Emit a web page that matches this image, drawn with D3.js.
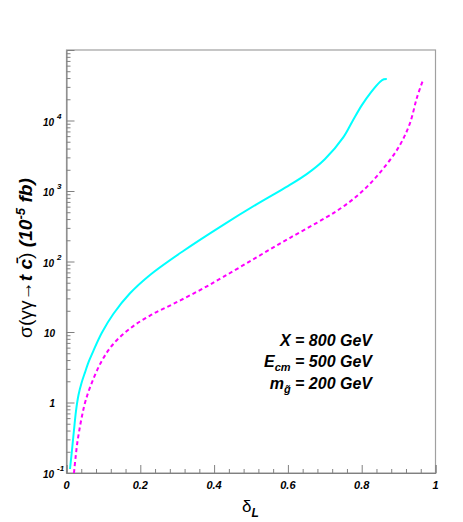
<!DOCTYPE html>
<html><head><meta charset="utf-8">
<script src="https://cdn.jsdelivr.net/npm/d3@7/dist/d3.min.js"></script>
<style>body{margin:0;background:#fff}</style></head>
<body><svg id="c" width="463" height="522"></svg>
<script>
// ---- data ----
const xTicks = [0, 0.2, 0.4, 0.6, 0.8, 1];
const xTickLabels = ["0", "0.2", "0.4", "0.6", "0.8", "1"];
const yTicks = [0.1, 1, 10, 100, 1000, 10000];
const yTickBase = ["10", "1", "10", "10", "10", "10"];
const yTickExp = ["-1", "", "", "2", "3", "4"];

const cyanDelta = [0.0095, 0.0149, 0.0203, 0.0257, 0.0325, 0.0407, 0.0501, 0.0610, 0.0726, 0.0954, 0.1268, 0.1721, 0.2263, 0.3165, 0.425, 0.515, 0.600, 0.650, 0.700, 0.750, 0.775, 0.800, 0.825, 0.850, 0.860, 0.868];
const cyanValue = [0.114, 0.212, 0.407, 0.757, 1.276, 1.89, 2.67, 3.88, 5.37, 9.68, 18.0, 35.4, 64.4, 141, 331, 646, 1175, 1718, 2818, 5754, 9772, 16400, 25100, 35500, 38460, 38900];

const magentaDelta = [0.0203, 0.0244, 0.0285, 0.0339, 0.0420, 0.0515, 0.0683, 0.0954, 0.1268, 0.1721, 0.2263, 0.2894, 0.3618, 0.4249, 0.515, 0.606, 0.700, 0.750, 0.800, 0.850, 0.900, 0.930, 0.950, 0.967];
const magentaValue = [0.1, 0.163, 0.250, 0.382, 0.644, 1.05, 1.89, 3.88, 6.76, 11.2, 17.1, 25.0, 39.3, 60.3, 114.6, 217, 411, 601, 975, 1837, 4169, 8913, 21380, 38460];

// ---- layout ----
const m = {left: 66.5, right: 435.5, top: 50, bottom: 473};
const svg = d3.select("#c");
const x = d3.scaleLinear().domain([0, 1]).range([m.left, m.right]);
const y = d3.scaleLog().domain([0.1, 1e5]).range([m.bottom, m.top]);
const axisCol = "#808080";
const FONT = "'Liberation Sans', Arial, Helvetica, sans-serif";

// frame
svg.append("rect").attr("x", m.left).attr("y", m.top)
  .attr("width", m.right - m.left).attr("height", m.bottom - m.top)
  .attr("fill", "none").attr("stroke", "#a0a0a0").attr("stroke-width", 1.2);

// x ticks
const xMinor = d3.range(0, 26).map(i => i * 0.04).filter(v => Math.abs(v / 0.2 - Math.round(v / 0.2)) > 1e-6);
const gx = svg.append("g").attr("transform", `translate(0,${m.bottom})`);
gx.call(d3.axisBottom(x).tickValues(xMinor).tickSize(-4).tickFormat(""));
gx.call(g => g.selectAll(".domain").remove());
const gx2 = svg.append("g").attr("transform", `translate(0,${m.bottom})`);
gx2.call(d3.axisBottom(x).tickValues(xTicks).tickSize(-8).tickFormat(""));
[gx, gx2].forEach(g => { g.selectAll("line").attr("stroke", axisCol); g.selectAll(".domain").attr("stroke", axisCol); });

// y ticks
const yMinor = [];
for (let e = -1; e < 5; e++) for (let k = 2; k <= 9; k++) yMinor.push(k * Math.pow(10, e));
const gy = svg.append("g").attr("transform", `translate(${m.left},0)`);
gy.call(d3.axisLeft(y).tickValues(yMinor).tickSize(-4).tickFormat(""));
gy.call(g => g.selectAll(".domain").remove());
const gy2 = svg.append("g").attr("transform", `translate(${m.left},0)`);
gy2.call(d3.axisLeft(y).tickValues(yTicks).tickSize(-8).tickFormat(""));
[gy, gy2].forEach(g => { g.selectAll("line").attr("stroke", axisCol); g.selectAll(".domain").attr("stroke", axisCol); });

// x labels
svg.append("g").selectAll("text").data(xTicks).join("text")
  .attr("x", d => x(d)).attr("y", m.bottom + 16)
  .attr("text-anchor", "middle")
  .attr("font-family", FONT).attr("font-size", 11).attr("font-weight", "bold").attr("font-style", "italic")
  .text((d, i) => xTickLabels[i]);

// y labels
yTicks.forEach((v, i) => {
  const yy = y(v);
  if (yTickExp[i] === "") {
    svg.append("text").attr("x", 55).attr("y", yy + 4.5)
      .attr("text-anchor", "end").attr("font-family", FONT).attr("font-size", 10)
      .attr("font-weight", "bold").attr("font-style", "italic").text(yTickBase[i]);
  } else {
    svg.append("text").attr("x", 54).attr("y", yy + 5)
      .attr("text-anchor", "end").attr("font-family", FONT).attr("font-size", 10)
      .attr("font-weight", "bold").attr("font-style", "italic").text(yTickBase[i]);
    svg.append("text").attr("x", 57).attr("y", yy - 2)
      .attr("text-anchor", "start").attr("font-family", FONT).attr("font-size", 8)
      .attr("font-weight", "bold").attr("font-style", "italic").text(yTickExp[i]);
  }
});

// curves
svg.append("clipPath").attr("id", "clipP").append("rect")
  .attr("x", m.left).attr("y", m.top).attr("width", m.right - m.left).attr("height", m.bottom - m.top);
const line = d3.line().x(d => x(d[0])).y(d => y(d[1])).curve(d3.curveCatmullRom.alpha(0.5));
svg.append("path").datum(cyanDelta.map((d, i) => [d, cyanValue[i]]))
  .attr("d", line).attr("fill", "none").attr("stroke", "#00ffff").attr("stroke-width", 2)
  .attr("clip-path", "url(#clipP)");
svg.append("path").datum(magentaDelta.map((d, i) => [d, magentaValue[i]]))
  .attr("d", line).attr("fill", "none").attr("stroke", "#ff00ff").attr("stroke-width", 2)
  .attr("stroke-dasharray", "4,3").attr("clip-path", "url(#clipP)");

// annotation
const ann = svg.append("g").attr("font-family", FONT).attr("font-weight", "bold")
  .attr("font-style", "italic").attr("font-size", 16).attr("text-anchor", "end");
ann.append("text").attr("x", 372).attr("y", 346).text("X = 800 GeV");
const t2 = ann.append("text").attr("x", 372).attr("y", 367);
t2.append("tspan").text("E");
t2.append("tspan").attr("dy", 4).attr("font-size", 11).text("cm");
t2.append("tspan").attr("dy", -4).text(" = 500 GeV");
const t3 = ann.append("text").attr("x", 372).attr("y", 389);
t3.append("tspan").text("m");
t3.append("tspan").attr("dy", 4).attr("font-size", 11).text("g\u0303");
t3.append("tspan").attr("dy", -4).text(" = 200 GeV");

// x title
const xt = svg.append("text").attr("x", 242).attr("y", 512).attr("font-family", FONT);
xt.append("tspan").attr("font-size", 17).text("δ");
xt.append("tspan").attr("dy", 5).attr("font-size", 12).attr("font-weight", "bold").attr("font-style", "italic").text("L");

// y title
const yt = svg.append("text").attr("transform", "translate(32,258) rotate(-90)")
  .attr("text-anchor", "middle").attr("font-family", FONT).attr("font-size", 16);
yt.append("tspan").text("σ(γγ→");
yt.append("tspan").attr("font-weight", "bold").attr("font-style", "italic").text("t c\u0304");
yt.append("tspan").text(") ");
yt.append("tspan").attr("font-weight", "bold").attr("font-style", "italic").text("(10");
yt.append("tspan").attr("class", "sup").attr("dy", -7).attr("font-size", 11).attr("font-weight", "bold").attr("font-style", "italic").text("-5");
yt.append("tspan").attr("dy", 7).attr("font-weight", "bold").attr("font-style", "italic").text(" fb)");
// fit title to the reference length (~160px)
const len = yt.node().getComputedTextLength();
if (len > 0) {
  const fs = 16 * 160 / len;
  yt.attr("font-size", fs);
  yt.select(".sup").attr("font-size", fs * 0.68);
}
</script>
</body></html>
